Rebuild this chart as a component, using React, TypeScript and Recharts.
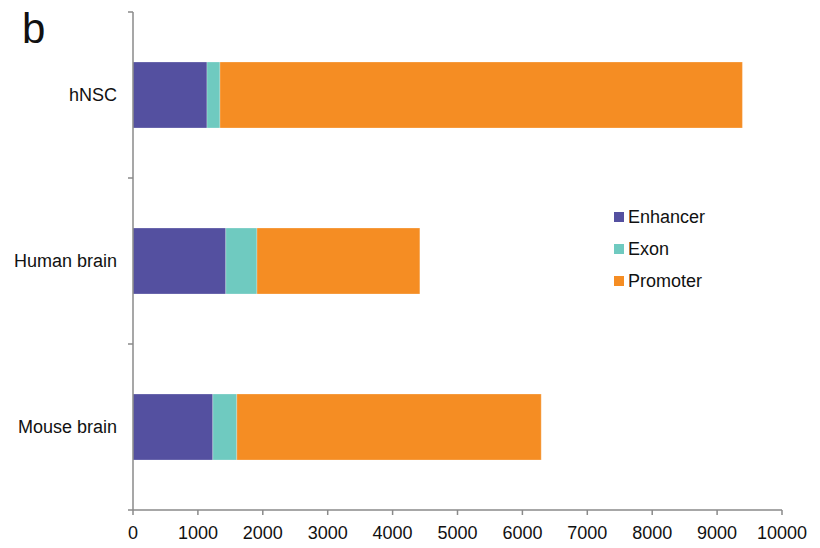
import React from "react";
import { BarChart, Bar, XAxis, YAxis } from "recharts";

const categories = ["hNSC", "Human brain", "Mouse brain"];
const enhancer = [1140, 1430, 1230];
const exon = [200, 480, 370];
const promoter = [8050, 2510, 4690];
const xTicks = [0, 1000, 2000, 3000, 4000, 5000, 6000, 7000, 8000, 9000, 10000];
const seriesNames = ["Enhancer", "Exon", "Promoter"];
const seriesColors = ["#5450A0", "#6FCAC0", "#F58D23"];

const data = categories.map((name, i) => ({
  name,
  Enhancer: enhancer[i],
  Exon: exon[i],
  Promoter: promoter[i],
}));

const FONT = "'Liberation Sans', Arial, sans-serif";
const AXIS = "#8a8a8a";
const MARGIN = 16;

const CatTick = (props: any) => {
  const { x, y, payload, index, visibleTicksCount } = props;
  const half = payload.offset || 0;
  const axisX = x + MARGIN;
  return (
    <g>
      <line x1={axisX - 5} x2={axisX} y1={y - half} y2={y - half} stroke={AXIS} strokeWidth={1.5} />
      {index === visibleTicksCount - 1 && (
        <line x1={axisX - 5} x2={axisX} y1={y + half} y2={y + half} stroke={AXIS} strokeWidth={1.5} />
      )}
      <text x={x} y={y} dy="0.355em" textAnchor="end" fill="#111" fontSize={18} fontFamily={FONT}>
        {payload.value}
      </text>
    </g>
  );
};

export default function App() {
  return (
    <div style={{ position: "relative", width: 804, height: 540 }}>
      <BarChart
        width={804}
        height={540}
        data={data}
        layout="vertical"
        margin={{ top: 4, right: 30, bottom: 0, left: 0 }}
      >
        <XAxis
          type="number"
          domain={[0, 10000]}
          ticks={xTicks}
          interval={0}
          height={38}
          stroke={AXIS}
          strokeWidth={1.5}
          tickSize={5}
          tickMargin={11}
          tick={{ fill: "#111", fontSize: 18, fontFamily: FONT }}
        />
        <YAxis
          type="category"
          dataKey="name"
          width={125}
          stroke={AXIS}
          strokeWidth={1.5}
          tickLine={false}
          tickSize={0}
          tickMargin={MARGIN}
          tick={<CatTick />}
        />
        {seriesNames.map((n, i) => (
          <Bar
            key={n}
            dataKey={n}
            stackId="a"
            fill={seriesColors[i]}
            stroke="#ffffff"
            strokeOpacity={0.5}
            strokeWidth={0.5}
            barSize={66}
            isAnimationActive={false}
          />
        ))}
      </BarChart>
      <div
        style={{
          position: "absolute",
          left: 606,
          top: 193,
          fontFamily: FONT,
          fontSize: 18,
          color: "#111",
        }}
      >
        {seriesNames.map((n, i) => (
          <div key={n} style={{ display: "flex", alignItems: "center", height: 32 }}>
            <span style={{ display: "inline-block", width: 10, height: 10, background: seriesColors[i], marginRight: 4 }} />
            <span>{n}</span>
          </div>
        ))}
      </div>
      <div
        style={{
          position: "absolute",
          left: 14,
          top: -2,
          fontFamily: FONT,
          fontSize: 42,
          lineHeight: "46px",
          color: "#111",
        }}
      >
        b
      </div>
    </div>
  );
}
